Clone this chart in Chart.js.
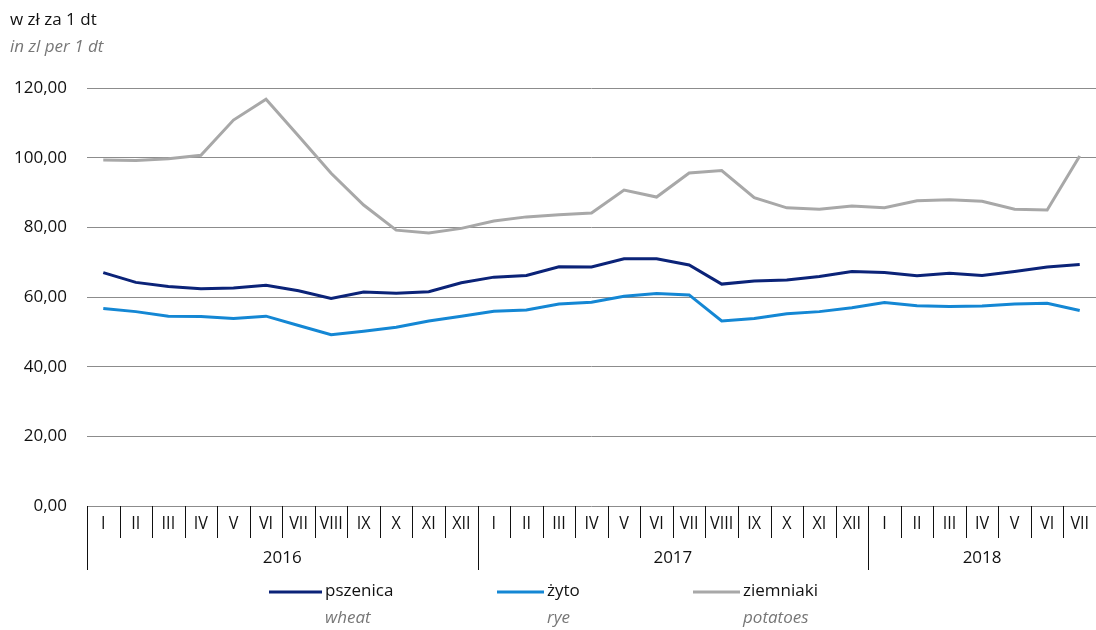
<!DOCTYPE html>
<html>
<head>
<meta charset="utf-8">
<script src="https://cdn.jsdelivr.net/npm/chart.js@4/dist/chart.umd.min.js"></script>
<style>
  html, body { margin: 0; padding: 0; background: #fff; }
  #wrap { position: relative; width: 1096px; height: 630px; }
  canvas { display: block; }
</style>
</head>
<body>
<div id="wrap"><canvas id="chart" width="1096" height="630"></canvas></div>
<script>
const months = ['I', 'II', 'III', 'IV', 'V', 'VI', 'VII', 'VIII', 'IX', 'X', 'XI', 'XII',
  'I', 'II', 'III', 'IV', 'V', 'VI', 'VII', 'VIII', 'IX', 'X', 'XI', 'XII',
  'I', 'II', 'III', 'IV', 'V', 'VI', 'VII']
const years = ['2016', '2017', '2018']
const yearMonths = [12, 12, 7]

const seriesNames = ['pszenica', 'żyto', 'ziemniaki']
const seriesNamesEn = ['wheat', 'rye', 'potatoes']

const wheat = [67.0, 64.2, 63.0, 62.4, 62.6, 63.4, 61.8, 59.6, 61.4, 61.1, 61.5, 64.1,
  65.7, 66.2, 68.7, 68.6, 71.0, 71.0, 69.2, 63.7, 64.6, 64.9, 65.9, 67.3,
  67.0, 66.1, 66.8, 66.2, 67.3, 68.6, 69.3]
const rye = [56.7, 55.8, 54.5, 54.4, 53.8, 54.5, 51.8, 49.2, 50.2, 51.3, 53.1, 54.5,
  55.9, 56.3, 58.0, 58.5, 60.2, 61.0, 60.6, 53.1, 53.8, 55.2, 55.8, 56.9,
  58.4, 57.5, 57.3, 57.4, 58.0, 58.2, 56.1]
const potatoes = [99.3, 99.2, 99.7, 100.7, 110.8, 116.8, 106.2, 95.5, 86.4, 79.2, 78.4, 79.7,
  81.8, 83.0, 83.6, 84.1, 90.7, 88.7, 95.6, 96.3, 88.5, 85.6, 85.2, 86.1,
  85.6, 87.6, 87.9, 87.5, 85.2, 85.0, 100.5]

const yTicks = [0, 20, 40, 60, 80, 100, 120]

const colors = ['#0b2378', '#1487d4', '#a8a8a8']
const FONT = '"Open Sans", "Noto Sans", sans-serif'

// draws the units, the two-level month/year axis and the two-line legend
const extras = {
  id: 'extras',
  afterDraw(chart) {
    const { ctx, chartArea } = chart
    const x = chart.scales.x
    const step = (chartArea.right - chartArea.left) / months.length
    const base = chartArea.bottom
    ctx.save()

    // units
    ctx.textBaseline = 'middle'
    ctx.textAlign = 'left'
    ctx.fillStyle = '#111'
    ctx.font = '17px ' + FONT
    ctx.fillText('w zł za 1 dt', 10, 20)
    ctx.fillStyle = '#777'
    ctx.font = 'italic 17px ' + FONT
    ctx.fillText('in zl per 1 dt', 10, 47)

    // separators
    ctx.strokeStyle = '#111'
    ctx.lineWidth = 1
    const yearStarts = []
    let acc = 0
    yearMonths.forEach(n => { yearStarts.push(acc); acc += n })
    for (let i = 0; i < months.length; i++) {
      const sx = Math.round(x.getPixelForValue(i) - step / 2) + 0.5
      const isYear = yearStarts.includes(i)
      ctx.beginPath()
      ctx.moveTo(sx, base)
      ctx.lineTo(sx, isYear ? base + 64 : base + 32)
      ctx.stroke()
    }

    // month labels (slightly condensed, like the original face)
    ctx.fillStyle = '#111'
    ctx.font = '19px ' + FONT
    ctx.textAlign = 'center'
    months.forEach((m, i) => {
      ctx.save()
      ctx.translate(x.getPixelForValue(i), base + 18)
      ctx.scale(0.85, 1)
      ctx.fillText(m, 0, 0)
      ctx.restore()
    })

    // year labels
    ctx.font = '17px ' + FONT
    years.forEach((yr, k) => {
      const a = x.getPixelForValue(yearStarts[k]) - step / 2
      const b = x.getPixelForValue(yearStarts[k] + yearMonths[k] - 1) + step / 2
      ctx.fillText(yr, (a + b) / 2, base + 52)
    })

    // legend
    const legendX = [269, 497, 693]
    const legendLen = [53, 47, 47]
    ctx.textAlign = 'left'
    seriesNames.forEach((name, i) => {
      const lx = legendX[i]
      ctx.strokeStyle = colors[i]
      ctx.lineWidth = 3
      ctx.beginPath()
      ctx.moveTo(lx, 592)
      ctx.lineTo(lx + legendLen[i], 592)
      ctx.stroke()
      ctx.fillStyle = '#111'
      ctx.font = '17px ' + FONT
      ctx.fillText(name, lx + legendLen[i] + 3, 591)
      ctx.fillStyle = '#777'
      ctx.font = 'italic 17px ' + FONT
      ctx.fillText(seriesNamesEn[i], lx + legendLen[i] + 3, 618)
    })
    ctx.restore()
  },
}

const ctx = document.getElementById('chart').getContext('2d')
const data = [wheat, rye, potatoes]

const chart = new Chart(ctx, {
  type: 'line',
  data: {
    labels: months,
    datasets: seriesNames.map((name, i) => ({
      label: name,
      data: data[i],
      borderColor: colors[i],
      backgroundColor: colors[i],
      borderWidth: 3,
      pointRadius: 0,
      tension: 0,
      fill: false,
    })),
  },
  options: {
    responsive: false,
    devicePixelRatio: 1,
    animation: false,
    layout: { padding: { left: 0, right: 0, top: 88, bottom: 124 } },
    plugins: {
      legend: { display: false },
      tooltip: { enabled: false },
    },
    scales: {
      x: {
        display: false,
        offset: true,
      },
      y: {
        min: 0,
        max: 120,
        afterBuildTicks: scale => {
          scale.ticks = yTicks.map(v => ({ value: v }))
        },
        afterFit: scale => {
          scale.width = 87
        },
        border: { display: false },
        grid: { color: '#8c8c8c', lineWidth: 1, drawTicks: false },
        ticks: {
          padding: 20,
          color: '#111',
          font: { family: FONT, size: 17 },
          callback: v => v.toFixed(2).replace('.', ','),
        },
      },
    },
  },
  plugins: [extras],
})
</script>
</body>
</html>
